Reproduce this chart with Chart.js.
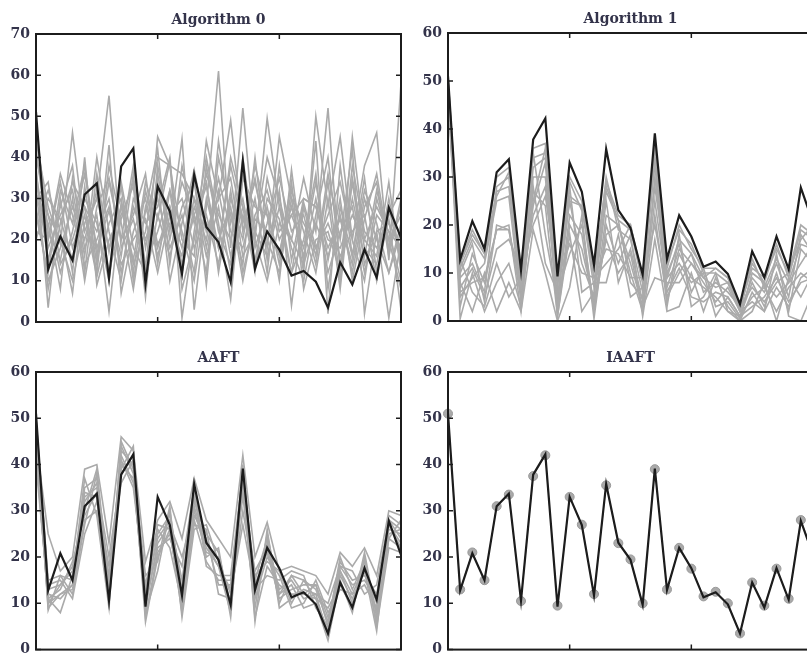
<!DOCTYPE html>
<html>
<head>
<meta charset="utf-8">
<script src="https://cdn.jsdelivr.net/npm/chart.js@4.4.0/dist/chart.umd.min.js"></script>
<style>
  html, body { margin: 0; padding: 0; background: #fff; overflow: hidden; }
  body { width: 807px; height: 664px; position: relative; }
  canvas { position: absolute; }
</style>
</head>
<body>
<canvas id="alg0" width="410" height="340" style="left:0;top:0"></canvas>
<canvas id="alg1" width="410" height="340" style="left:410px;top:0"></canvas>
<canvas id="aaft" width="410" height="324" style="left:0;top:340px"></canvas>
<canvas id="iaaft" width="410" height="324" style="left:410px;top:340px"></canvas>
<script>
// sample index along the x axis
const steps = [0,1,2,3,4,5,6,7,8,9,10,11,12,13,14,15,16,17,18,19,20,21,22,23,24,25,26,27,28,29,30];

// the original series (black line, same in every panel)
const original = [51, 12.8, 20.8, 15, 31, 33.7, 10.6, 37.8, 42.2, 9.3, 33, 26.9, 11.7, 35.8, 23.1, 19.4,
  9.7, 39.1, 12.9, 22, 17.6, 11.3, 12.4, 9.8, 3.5, 14.5, 9.1, 17.6, 10.8, 27.8, 20.5];

// Algorithm 0 surrogates
const alg0Surrogates = [
  [44, 28, 19, 46, 22, 30, 55, 18, 25, 12, 45, 38, 20, 16, 44, 30, 49, 22, 35, 18, 45, 30, 12, 50, 28, 45, 20, 38, 46, 15, 58],
  [38, 3.5, 30, 12, 40, 9, 20, 26, 33, 6, 38, 22, 44.5, 3, 28, 61, 18, 52, 20, 49.5, 28, 20, 35, 22, 52, 12, 45, 20, 28, 22, 18],
  [30, 24, 8, 35, 18, 26, 2.5, 29, 15, 34, 25, 39, 1, 22, 40, 24, 5.5, 35, 28, 26, 10, 37, 14, 44, 2, 38, 16, 35, 12, 25, 3],
  [25, 32, 22, 7, 33, 14, 43, 7, 22, 30, 16, 28, 18, 35, 9, 40, 26, 14, 40, 15, 32, 4, 28, 16, 36, 20, 42, 2, 22, 1, 20],
  [35, 15, 28, 38, 12, 36, 17, 33, 10, 27, 42, 14, 38, 24, 33, 18, 40, 28, 12, 35, 22, 26, 18, 34, 15, 30, 10, 25, 36, 18, 28],
  [42, 20, 34, 18, 28, 22, 30, 12, 28, 20, 30, 18, 26, 12, 38, 22, 14, 40, 18, 28, 14, 32, 22, 12, 30, 8, 35, 18, 14, 30, 15],
  [28, 10, 18, 28, 20, 32, 12, 25, 34, 14, 22, 32, 12, 28, 20, 35, 22, 18, 30, 12, 38, 15, 30, 28, 18, 25, 14, 30, 20, 12, 24],
  [33, 26, 12, 22, 36, 18, 27, 14, 20, 25, 12, 26, 30, 18, 26, 14, 32, 12, 25, 22, 17, 28, 16, 30, 12, 22, 28, 12, 26, 22, 10],
  [20, 30, 25, 15, 26, 11, 24, 30, 12, 32, 19, 24, 16, 30, 16, 28, 12, 26, 15, 30, 25, 12, 29, 18, 24, 16, 22, 26, 10, 28, 14],
  [48, 22, 15, 30, 10, 28, 35, 20, 38, 18, 34, 10, 24, 37, 22, 30, 35, 16, 22, 40, 30, 18, 10, 26, 40, 14, 30, 16, 32, 20, 8],
  [36, 18, 26, 32, 16, 40, 22, 10, 30, 24, 28, 40, 8, 20, 36, 26, 20, 30, 14, 24, 35, 22, 26, 14, 34, 10, 38, 22, 18, 26, 32],
  [30, 34, 14, 20, 30, 24, 10, 34, 18, 12, 36, 20, 34, 26, 12, 44, 24, 36, 22, 16, 28, 12, 20, 36, 8, 28, 16, 32, 24, 12, 22],
  [26, 12, 32, 24, 38, 16, 34, 20, 26, 36, 14, 32, 22, 10, 30, 18, 38, 24, 34, 20, 12, 30, 24, 18, 26, 34, 20, 10, 30, 20, 26],
  [40, 26, 20, 10, 24, 30, 18, 28, 14, 22, 40, 38, 36, 30, 24, 20, 28, 10, 26, 32, 20, 26, 30, 28, 20, 18, 26, 20, 16, 34, 12],
  [22, 20, 36, 26, 14, 20, 28, 16, 36, 10, 26, 16, 28, 34, 18, 32, 16, 28, 20, 10, 24, 20, 14, 24, 16, 26, 12, 28, 34, 16, 30],
  [32, 8, 24, 34, 28, 12, 38, 24, 8, 28, 18, 28, 14, 26, 34, 12, 30, 20, 38, 26, 16, 34, 8, 20, 22, 12, 34, 14, 22, 24, 18]
];

// Algorithm 1 surrogates
const alg1Surrogates = [
  [50, 12, 18, 14, 30, 32, 10, 36, 37, 8, 30, 25, 10, 29, 22, 20, 9, 37, 11, 20, 15, 11, 11, 9, 3, 11, 9, 15, 10, 20, 18],
  [49, 0.5, 10, 2, 8, 12, 3, 25, 36, 2, 22, 18, 2, 18, 20, 10, 2, 30, 9, 12, 8, 10, 1, 5, 1, 8, 3, 10, 2, 15, 12],
  [48, 8, 2, 10, 2, 8, 2, 19, 10, 0, 7, 22, 0.5, 20, 12, 18, 1, 17, 2, 3, 10, 2, 9, 3, 0, 2, 8, 0, 9, 5, 10],
  [51, 10, 16, 4, 20, 19, 7, 22, 28, 5, 25, 12, 5, 25, 8, 15, 4, 25, 7, 15, 12, 8, 4, 7, 2, 9, 6, 12, 5, 18, 14],
  [50, 5, 9, 12, 25, 26, 4, 30, 30, 3, 28, 6, 8, 8, 18, 5, 7, 33, 3, 18, 3, 5, 10, 2, 1, 5, 7, 2, 7, 10, 8],
  [47, 13, 6, 3, 12, 5, 9, 28, 12, 6, 14, 20, 3, 22, 20, 12, 3, 9, 8, 8, 12, 9, 7, 8, 2, 4, 2, 14, 1, 0, 6],
  [50, 3, 14, 8, 19, 19, 5, 24, 33, 1, 18, 2, 6, 27, 21, 8, 5, 28, 10, 16, 6, 11, 3, 4, 0.5, 10, 8, 5, 8, 12, 16],
  [49, 9, 12, 6, 28, 30, 8, 35, 18, 4, 26, 24, 9, 12, 15, 20, 8, 35, 5, 10, 14, 6, 8, 6, 3, 7, 4, 8, 10, 17, 20],
  [50, 11, 17, 13, 26, 31, 9, 34, 35, 7, 29, 23, 11, 28, 21, 19, 8, 34, 12, 19, 16, 10, 10, 8, 2.5, 12, 8, 16, 9, 19, 17],
  [48, 6, 8, 9, 19, 20, 2, 27, 24, 1, 20, 15, 4, 17, 10, 14, 2, 22, 4, 14, 9, 7, 5, 2, 0, 6, 2, 7, 3, 9, 11],
  [51, 12, 19, 14, 27, 28, 6, 32, 34, 8, 25, 24, 7, 30, 19, 17, 6, 36, 9, 17, 14, 9, 11, 9, 2, 13, 7, 13, 8, 16, 15],
  [46, 7, 11, 5, 15, 17, 11, 20, 26, 9, 16, 10, 9, 15, 14, 9, 9, 20, 6, 11, 5, 4, 6, 5, 1, 3, 5, 9, 4, 8, 9]
];

// AAFT surrogates
const aaftSurrogates = [
  [45, 25, 17, 20, 39, 40, 23, 46, 43, 19, 28, 32, 24, 37, 28, 24, 20, 42, 20, 27.5, 17, 18, 17, 16, 12, 21, 18, 22, 16, 30, 29],
  [48, 9, 12, 13, 28, 30, 10, 40, 40, 6, 20, 26, 8, 31, 22, 18, 8, 36, 7, 18, 14, 12, 12, 11, 4, 17, 10, 18, 6, 24, 22],
  [42, 11, 8, 16, 35, 37, 12, 44, 38, 8, 17, 30, 12, 27, 26, 12, 11, 30, 15, 24, 10, 16, 15, 13, 6, 19, 15, 16, 12, 26, 25],
  [50, 14, 15, 11, 25, 32, 18, 36, 41, 12, 24, 28, 15, 33, 20, 22, 7, 40, 11, 20, 16, 9, 10, 15, 8, 13, 12, 14, 9, 29, 27],
  [46, 10, 14, 18, 30, 39, 14, 42, 36, 14, 26, 22, 10, 29, 24, 14, 14, 33, 17, 22, 12, 14, 9, 10, 2, 15, 8, 20, 5, 22, 21],
  [40, 12, 11, 14, 33, 35, 20, 38, 42, 10, 22, 24, 18, 35, 18, 16, 16, 38, 6, 26, 9, 11, 13, 12, 10, 18, 17, 12, 14, 28, 24],
  [49, 8.5, 16, 15, 37, 29, 9, 45, 39, 16, 19, 31, 7, 26, 27, 19, 12, 27, 13, 16, 15, 17, 16, 9, 5, 20, 13, 19, 8, 25, 26],
  [44, 11, 13, 19, 29, 34, 11, 40, 37, 9, 23, 27, 20, 30, 21, 20, 10, 35, 14, 21, 11, 13, 14, 14, 7, 16, 11, 17, 4, 27, 23],
  [47, 13, 14, 17, 32, 36, 13, 43, 40, 11, 25, 29, 13, 34, 23, 18, 13, 39, 12, 23, 13, 15, 11, 12, 3, 17, 12, 18, 10, 28, 26],
  [43, 10, 12, 14, 34, 33, 16, 39, 44, 7, 21, 25, 11, 32, 25, 21, 9, 37, 16, 19, 17, 10, 15, 11, 9, 14, 9, 21, 7, 24, 28],
  [50, 15, 16, 12, 27, 38, 12, 41, 35, 13, 27, 26, 9, 28, 19, 15, 15, 34, 9, 25, 12, 16, 12, 14, 5, 18, 14, 15, 11, 27, 22]
];

// IAAFT surrogate (sits right on the original)
const iaaftSurrogates = [
  [51, 13, 21, 15, 31, 33.5, 10.5, 37.5, 42, 9.5, 33, 27, 12, 35.5, 23, 19.5, 10, 39, 13, 22, 17.5, 11.5, 12.5, 10, 3.5, 14.5, 9.5, 17.5, 11, 28, 21]
];

const ink = '#1c1c1c';
const gray = '#aaaaaa';
const textColor = '#33334a';
const serif = '"DejaVu Serif", serif';

// box around the plot with short inward ticks, plus the panel title
const framePlugin = {
  id: 'frame',
  afterDatasetsDraw(chart, args, opts) {
    const { ctx, chartArea: a } = chart;
    const x = chart.scales.x, y = chart.scales.y;
    ctx.save();
    ctx.strokeStyle = ink;
    ctx.lineWidth = 2;
    ctx.strokeRect(a.left, a.top, a.right - a.left, a.bottom - a.top);
    ctx.lineWidth = 1.5;
    ctx.beginPath();
    y.ticks.forEach(t => {
      const py = y.getPixelForValue(t.value);
      ctx.moveTo(a.left, py); ctx.lineTo(a.left + 5, py);
      ctx.moveTo(a.right, py); ctx.lineTo(a.right - 5, py);
    });
    [10, 20].forEach(v => {
      const px = x.getPixelForValue(v);
      ctx.moveTo(px, a.top); ctx.lineTo(px, a.top + 5);
      ctx.moveTo(px, a.bottom); ctx.lineTo(px, a.bottom - 5);
    });
    ctx.stroke();
    ctx.fillStyle = textColor;
    ctx.font = 'bold 14px ' + serif;
    ctx.textAlign = 'center';
    ctx.textBaseline = 'middle';
    ctx.fillText(opts.text, (a.left + a.right) / 2, a.top - 14);
    ctx.restore();
  }
};

function makePanel(id, title, yMax, surrogates, padding, axisWidth, withMarkers) {
  const datasets = [{
    data: original,
    borderColor: ink,
    borderWidth: 2.2,
    pointRadius: 0,
    tension: 0,
    order: 0
  }];
  surrogates.forEach(s => datasets.push({
    data: s,
    borderColor: gray,
    borderWidth: withMarkers ? 1 : 1.6,
    pointRadius: withMarkers ? 4.5 : 0,
    pointBackgroundColor: gray,
    pointBorderColor: '#999999',
    pointBorderWidth: 1,
    tension: 0,
    order: 1
  }));
  new Chart(document.getElementById(id), {
    type: 'line',
    data: { labels: steps, datasets },
    options: {
      responsive: false,
      animation: false,
      events: [],
      layout: { padding },
      plugins: {
        legend: { display: false },
        tooltip: { enabled: false },
        frame: { text: title }
      },
      scales: {
        x: { display: false },
        y: {
          min: 0,
          max: yMax,
          grid: { display: false, drawTicks: false },
          border: { display: false },
          ticks: { stepSize: 10, padding: 6, color: textColor, font: { family: serif, size: 14, weight: 'bold' } },
          afterFit(scale) { scale.width = axisWidth; }
        }
      }
    },
    plugins: [framePlugin]
  });
}

makePanel('alg0', 'Algorithm 0', 70, alg0Surrogates, { left: 0, top: 34, right: 9, bottom: 18 }, 36, false);
makePanel('alg1', 'Algorithm 1', 60, alg1Surrogates, { left: 0, top: 33, right: 7, bottom: 19 }, 38, false);
makePanel('aaft', 'AAFT', 60, aaftSurrogates, { left: 0, top: 32, right: 9, bottom: 6 }, 36, false);
makePanel('iaaft', 'IAAFT', 60, iaaftSurrogates, { left: 0, top: 32, right: 7, bottom: 6 }, 38, true);
</script>
</body>
</html>
